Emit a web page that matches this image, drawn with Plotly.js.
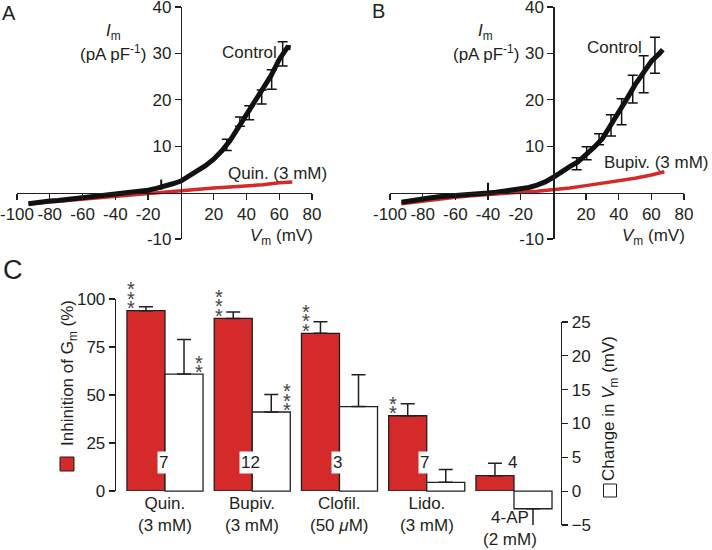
<!DOCTYPE html>
<html>
<head>
<meta charset="utf-8">
<script src="https://cdn.plot.ly/plotly-3.0.1.min.js"></script>
<style>html,body{margin:0;padding:0;background:#fff;}#plot{width:712px;height:550px;}</style>
</head>
<body>
<div id="plot"></div>
<script>
// ---------- Panel A data (Quinidine) ----------
const ctrlA_v = [-93,-90,-85,-80,-75,-70,-65,-60,-55,-50,-45,-40,-35,-30,-25,-20,-15,-10,-5,0,5,10,15,20,25,30,35,40,45,50,55,60,65,67];
const ctrlA_I = [-2.4,-2.2,-2.0,-1.8,-1.7,-1.5,-1.3,-1.2,-1.0,-0.9,-0.7,-0.5,-0.3,-0.1,0.2,0.5,0.9,1.3,1.9,2.5,3.6,4.6,5.8,7.2,9.0,11.2,14.0,16.8,19.6,22.0,25.2,28.7,31.3,31.2];
const quin_v = [-93,-80,-70,-60,-50,-40,-30,-20,-10,0,10,20,30,40,50,60,68];
const quin_I = [-2.4,-2.0,-1.7,-1.4,-1.1,-0.8,-0.5,-0.3,0.0,0.4,0.7,1.0,1.2,1.4,1.7,2.1,2.3];
const errA_v = [28,36,41.7,49.3,55.4,62.1];
const errA_I = [10.3,15.3,17.2,20.6,24.4,29.9];
const errA_sd = [1.2,1.0,1.5,1.5,2.1,2.6];
const artA_v = [-12,-12];
const artA_I = [0.6,2.8];

// ---------- Panel B data (Bupivacaine) ----------
const ctrlB_v = [-93,-90,-85,-80,-75,-70,-65,-60,-55,-50,-45,-40,-35,-30,-25,-20,-15,-10,-5,0,5,10,15,20,25,30,35,40,45,50,55,60,65,67];
const ctrlB_I = [-2.1,-1.9,-1.6,-1.4,-1.1,-0.9,-0.8,-0.7,-0.5,-0.3,-0.2,-0.1,0.1,0.3,0.5,0.7,1.1,1.6,2.3,3.3,4.6,5.6,6.6,8.1,9.8,11.6,14.4,16.9,20.2,23.2,25.7,28.3,30.0,30.8];
const bupi_v = [-93,-80,-70,-60,-50,-40,-30,-20,-10,0,10,20,30,40,50,60,68];
const bupi_I = [-2.4,-1.8,-1.4,-1.0,-0.7,-0.4,-0.2,0.1,0.3,0.6,1.0,1.5,2.0,2.6,3.1,3.8,4.5];
const errB_v = [14.3,20.4,28,35.3,41.8,48.6,55.3,62.2];
const errB_I = [6.2,8.5,11.5,14.5,17.4,22.3,25.5,29.6];
const errB_sd = [1.3,1.4,1.2,2.3,2.8,3.0,4.0,3.9];
const artB_v = [-40,-40];
const artB_I = [-0.4,2.1];

const xTicks = [-100,-80,-60,-40,-20,20,40,60,80];
const yTicks = [-10,10,20,30,40];

// ---------- Panel C data ----------
const drugs = ['Quin.','Bupiv.','Clofil.','Lido.','4-AP'];
const doses = ['(3 mM)','(3 mM)','(50 <i>μ</i>M)','(3 mM)','(2 mM)'];
const inhibGm = [93.9,89.9,82.1,39.2,8.0];
const inhibGmErr = [2.0,3.3,6.0,6.3,6.4];
const dVm = [17.3,11.7,12.5,1.3,-2.6];
const dVmErrUp = [5.1,2.6,4.7,1.9,0];
const dVmErrDown = [0,0,0,0,3.2];
const nCells = ['7','12','3','7','4'];
const sigGm = [3,3,3,2,0];
const sigVm = [2,3,0,0,0];
const gmTicks = [0,25,50,75,100];
const vmTicks = [-5,0,5,10,15,20,25];

// ---------- layout helpers ----------
const W = 712, H = 550;
const px = x => x / W;
const py = y => 1 - y / H;
const INK = '#231f20';
const RED = '#d52a2a';
const FONT = 'Liberation Sans, Arial, Helvetica, sans-serif';
const FS = 17;
const fnt = (s, c) => ({family: FONT, size: s, color: c || INK});

function zeroPos(domain, range) {
  return domain[0] + (0 - range[0]) / (range[1] - range[0]) * (domain[1] - domain[0]);
}

const ivY = [py(239), py(7)];
const ivYr = [-10, 40];
const axA = [px(17), px(312)];
const axB = [px(390), px(684)];
const ivXr = [-100, 80];

function ivX(domain) {
  return {domain: domain, range: ivXr, anchor: 'free', position: zeroPos(ivY, ivYr),
    showline: true, linecolor: INK, linewidth: 1.3, ticks: 'outside', ticklen: 6, tickwidth: 1.3, tickcolor: INK,
    tickvals: xTicks, ticktext: xTicks.map(String), showgrid: false, zeroline: false,
    ticklabeloverflow: 'allow', tickfont: fnt(FS), fixedrange: true};
}
function ivYax(xdomain) {
  return {domain: ivY, range: ivYr, anchor: 'free', position: zeroPos(xdomain, ivXr),
    showline: true, linecolor: INK, linewidth: 1.3, ticks: 'outside', ticklen: 6, tickwidth: 1.3, tickcolor: INK,
    tickvals: yTicks, ticktext: yTicks.map(String), showgrid: false, zeroline: false,
    ticklabeloverflow: 'allow', tickfont: fnt(FS), fixedrange: true};
}

const barW = 0.436;
const idx = drugs.map((d, i) => i);

const traces = [
  // Panel A
  {x: quin_v, y: quin_I, xaxis: 'x', yaxis: 'y', mode: 'lines', line: {color: RED, width: 3.5}, hoverinfo: 'skip'},
  {x: ctrlA_v, y: ctrlA_I, xaxis: 'x', yaxis: 'y', mode: 'lines', line: {color: '#111', width: 5}, hoverinfo: 'skip'},
  {x: artA_v, y: artA_I, xaxis: 'x', yaxis: 'y', mode: 'lines', line: {color: '#111', width: 2}, hoverinfo: 'skip'},
  {x: errA_v, y: errA_I, xaxis: 'x', yaxis: 'y', mode: 'none', hoverinfo: 'skip',
   error_y: {type: 'data', array: errA_sd, color: '#111', thickness: 1.5, width: 5}},
  // Panel B
  {x: bupi_v, y: bupi_I, xaxis: 'x2', yaxis: 'y2', mode: 'lines', line: {color: RED, width: 3.5}, hoverinfo: 'skip'},
  {x: ctrlB_v, y: ctrlB_I, xaxis: 'x2', yaxis: 'y2', mode: 'lines', line: {color: '#111', width: 5}, hoverinfo: 'skip'},
  {x: artB_v, y: artB_I, xaxis: 'x2', yaxis: 'y2', mode: 'lines', line: {color: '#111', width: 2}, hoverinfo: 'skip'},
  {x: errB_v, y: errB_I, xaxis: 'x2', yaxis: 'y2', mode: 'none', hoverinfo: 'skip',
   error_y: {type: 'data', array: errB_sd, color: '#111', thickness: 1.5, width: 5}},
  // Panel C red: inhibition of Gm
  {type: 'bar', x: idx, y: inhibGm, xaxis: 'x3', yaxis: 'y3', offset: -barW, width: barW,
   marker: {color: RED, line: {color: INK, width: 1.3}}, hoverinfo: 'skip',
   error_y: {type: 'data', symmetric: false, array: inhibGmErr, arrayminus: inhibGm.map(() => 0), color: INK, thickness: 1.5, width: 7}},
  // Panel C white: change in Vm
  {type: 'bar', x: idx, y: dVm, xaxis: 'x4', yaxis: 'y4', offset: 0, width: barW, cliponaxis: false,
   marker: {color: '#ffffff', line: {color: INK, width: 1.3}}, hoverinfo: 'skip',
   error_y: {type: 'data', symmetric: false, array: dVmErrUp, arrayminus: dVmErrDown, color: INK, thickness: 1.5, width: 7}}
];

const cXr = [-0.5616, 4.539];
const cXd = [px(116), px(561)];

const paperText = (text, x, y, size, opts) => Object.assign({text: text, x: px(x), y: py(y), xref: 'paper', yref: 'paper',
  showarrow: false, font: fnt(size), xanchor: 'center', yanchor: 'middle'}, opts || {});

const annotations = [
  paperText('A', 8.5, 13.5, 20),
  paperText('B', 378.5, 11.5, 20),
  paperText('C', 13, 270, 27),
  // A labels
  paperText('<i>I</i><sub>m</sub>', 113, 32, FS),
  paperText('(pA pF<sup>-1</sup>)', 113, 53, FS),
  paperText('<i>V</i><sub>m</sub> (mV)', 315, 237, FS, {xanchor: 'right'}),
  paperText('Control', 249, 53, FS),
  paperText('Quin. (3 mM)', 277, 173, FS),
  // B labels
  paperText('<i>I</i><sub>m</sub>', 485, 32, FS),
  paperText('(pA pF<sup>-1</sup>)', 486, 53, FS),
  paperText('<i>V</i><sub>m</sub> (mV)', 687, 237, FS, {xanchor: 'right'}),
  paperText('Control', 614, 47, FS),
  paperText('Bupiv. (3 mM)', 656, 162, FS),
  // C axis titles
  paperText('Inhinition of G<sub>m</sub> (%)', 69, 373, FS, {textangle: -90}),
  paperText('Change in <i>V</i><sub>m</sub> (mV)', 610, 409, FS, {textangle: -90})
];

drugs.forEach((d, i) => {
  const last = (i === drugs.length - 1);
  annotations.push({text: d + '<br>' + doses[i], x: last ? i - 0.05 : i, y: py(last ? 528 : 514), xref: 'x3', yref: 'paper',
    showarrow: false, font: fnt(FS), xanchor: 'center', yanchor: 'middle'});
  annotations.push({text: nCells[i], x: i - 0.02, y: 15.1, xref: 'x3', yref: 'y3', showarrow: false,
    font: fnt(FS), bgcolor: '#ffffff', borderpad: 1, xanchor: 'center', yanchor: 'middle'});
  for (let k = 0; k < sigGm[i]; k++) {
    annotations.push({text: '*', x: i - 0.385, y: inhibGm[i], xref: 'x3', yref: 'y3', showarrow: false,
      font: fnt(20, '#444'), xanchor: 'center', yanchor: 'middle', yshift: 2.5 + k * 9.5});
  }
  for (let k = 0; k < sigVm[i]; k++) {
    annotations.push({text: '*', x: i + 0.395, y: dVm[i], xref: 'x4', yref: 'y4', showarrow: false,
      font: fnt(20, '#444'), xanchor: 'center', yanchor: 'middle', yshift: 2 + k * 9.5});
  }
});

const shapes = [
  {type: 'rect', xref: 'paper', yref: 'paper', x0: px(60), x1: px(74), y0: py(471), y1: py(457), fillcolor: RED, line: {color: INK, width: 1}},
  {type: 'rect', xref: 'paper', yref: 'paper', x0: px(603.5), x1: px(616.5), y0: py(497), y1: py(484), fillcolor: '#ffffff', line: {color: INK, width: 1}}
];

const layout = {
  width: W, height: H, margin: {l: 0, r: 0, t: 0, b: 0},
  paper_bgcolor: '#ffffff', plot_bgcolor: 'rgba(0,0,0,0)',
  showlegend: false, font: fnt(FS),
  xaxis: ivX(axA), yaxis: ivYax(axA),
  xaxis2: ivX(axB), yaxis2: ivYax(axB),
  xaxis3: {domain: cXd, range: cXr, anchor: 'y3', visible: false, fixedrange: true},
  yaxis3: {domain: [py(491), py(299)], range: [0, 100], anchor: 'x3', side: 'left',
    showline: true, linecolor: INK, linewidth: 1.3, ticks: 'outside', ticklen: 6, tickwidth: 1.3, tickcolor: INK,
    tickvals: gmTicks, showgrid: false, zeroline: false, tickfont: fnt(FS), fixedrange: true},
  xaxis4: {domain: cXd, range: cXr, anchor: 'y4', visible: false, fixedrange: true},
  yaxis4: {domain: [py(525), py(322)], range: [-5, 25], anchor: 'free', position: px(561), side: 'right',
    showline: true, linecolor: INK, linewidth: 1.3, ticks: 'outside', ticklen: 6, tickwidth: 1.3, tickcolor: INK,
    tickvals: vmTicks, showgrid: false, zeroline: false, tickfont: fnt(FS), fixedrange: true},
  annotations: annotations, shapes: shapes
};

Plotly.newPlot('plot', traces, layout, {staticPlot: true, displayModeBar: false});
</script>
</body>
</html>
